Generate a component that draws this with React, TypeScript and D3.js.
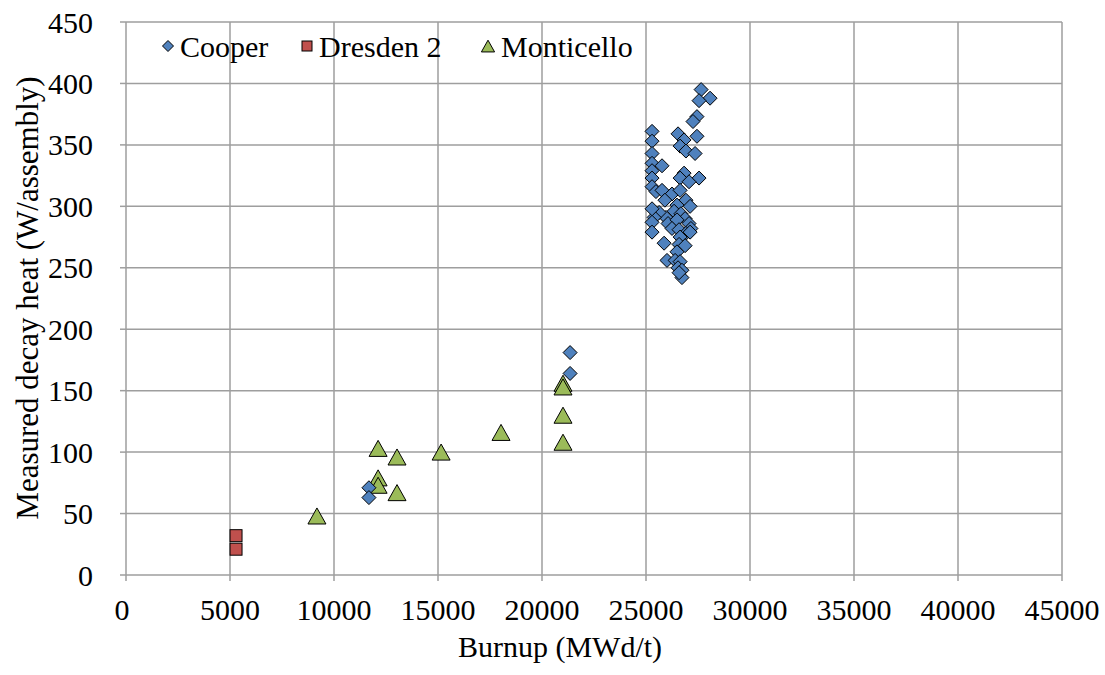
import React from "react";
import * as d3 from "d3";

const cooperX = [27650, 28080, 27550, 27450, 27260, 27450, 25290, 25290, 26540, 26830, 26640, 26920, 27360, 25290, 25290, 25770, 25290, 25290, 26830, 26640, 27550, 27070, 25290, 25480, 25770, 26250, 26640, 25910, 26920, 27120, 26490, 26350, 25960, 25630, 25390, 25290, 25290, 26060, 26680, 26880, 27070, 27160, 25290, 26490, 26250, 26590, 26920, 27120, 25870, 26640, 26590, 26490, 26880, 26010, 26400, 26640, 26540, 26730, 26730, 26590, 21350, 21350, 11680, 11680];
const cooperY = [395, 388, 386, 373, 369, 357, 361, 353, 359, 354, 349, 345, 343, 343, 335, 333, 329, 323, 327, 323, 323, 320, 316, 312, 313, 310, 313, 305, 305, 300, 301, 296, 291, 295, 291, 298, 287, 286, 294, 290, 286, 282, 279, 289, 282, 281, 278, 279, 270, 275, 269, 263, 268, 256, 256, 255, 250, 248, 242, 246, 181, 164, 71, 63];

const dresdenX = [5290, 5290];
const dresdenY = [32, 21];

const monticelloX = [9180, 12120, 13030, 15150, 18030, 21010, 21010, 21010, 21010, 12120, 12120, 13030];
const monticelloY = [47, 102, 95, 99, 115, 155, 152, 129, 107, 78, 72, 66];

const xTicks = [0, 5000, 10000, 15000, 20000, 25000, 30000, 35000, 40000, 45000];
const yTicks = [0, 50, 100, 150, 200, 250, 300, 350, 400, 450];

const W = 1105, H = 675;
const L = 126, R = 1062, T = 22, B = 575;
const FONT = "'Liberation Serif', 'Times New Roman', serif";
const FS = 30;

export default function App() {
  const x = d3.scaleLinear().domain([0, 45000]).range([L, R]);
  const y = d3.scaleLinear().domain([0, 450]).range([B, T]);
  const diamond = (cx: number, cy: number, r: number) => `M${cx},${cy - r}L${cx + r},${cy}L${cx},${cy + r}L${cx - r},${cy}Z`;
  const tri = (cx: number, cy: number, s: number) => `M${cx},${cy - s * 0.62}L${cx + s * 0.6},${cy + s * 0.45}L${cx - s * 0.6},${cy + s * 0.45}Z`;

  return (
    <svg width={W} height={H} style={{ position: "absolute", left: 0, top: 0, background: "#fff" }} fontFamily={FONT}>
      {xTicks.map((t) => (
        <line key={"gx" + t} x1={x(t)} x2={x(t)} y1={T} y2={B} stroke="#9e9e9e" strokeWidth={1.5} />
      ))}
      {yTicks.map((t) => (
        <line key={"gy" + t} x1={L} x2={R} y1={y(t)} y2={y(t)} stroke="#9e9e9e" strokeWidth={1.5} />
      ))}
      {yTicks.map((t) => (
        <line key={"ty" + t} x1={L - 6} x2={L} y1={y(t)} y2={y(t)} stroke="#9e9e9e" strokeWidth={1.5} />
      ))}
      {xTicks.map((t) => (
        <line key={"tx" + t} x1={x(t)} x2={x(t)} y1={B} y2={B + 6} stroke="#9e9e9e" strokeWidth={1.5} />
      ))}
      {yTicks.map((t) => (
        <text key={"ly" + t} x={93} y={y(t)} dy="0.35em" textAnchor="end" fontSize={FS} fill="#000">{t}</text>
      ))}
      {xTicks.map((t) => (
        <text key={"lx" + t} x={x(t) - (t === 0 ? 4 : 0)} y={609} dy="0.35em" textAnchor="middle" fontSize={FS} fill="#000">{t}</text>
      ))}
      <text x={(L + R) / 2 - 34} y={646} dy="0.35em" textAnchor="middle" fontSize={FS}>Burnup (MWd/t)</text>
      <text transform={`translate(27,298) rotate(-90)`} dy="0.35em" textAnchor="middle" fontSize={31}>Measured decay heat (W/assembly)</text>

      {monticelloX.map((v, i) => (
        <path key={"m" + i} d={tri(x(v), y(monticelloY[i]), 15)} fill="#9BBB59" stroke="#000" strokeWidth={1} />
      ))}
      {dresdenX.map((v, i) => (
        <rect key={"d" + i} x={x(v) - 6} y={y(dresdenY[i]) - 6} width={12} height={12} fill="#C0504D" stroke="#000" strokeWidth={1} />
      ))}
      {cooperX.map((v, i) => (
        <path key={"c" + i} d={diamond(x(v), y(cooperY[i]), 7)} fill="#4F81BD" stroke="#000" strokeWidth={1} />
      ))}

      <g>
        <path d={diamond(168, 46, 5.5)} fill="#4F81BD" stroke="#000" strokeWidth={1} />
        <text x={180} y={46} dy="0.35em" fontSize={FS}>Cooper</text>
        <rect x={302} y={41} width={10} height={10} fill="#C0504D" stroke="#000" strokeWidth={1} />
        <text x={319} y={46} dy="0.35em" fontSize={FS}>Dresden 2</text>
        <path d={tri(488, 47, 11)} fill="#9BBB59" stroke="#000" strokeWidth={1} />
        <text x={501} y={46} dy="0.35em" fontSize={FS}>Monticello</text>
      </g>
    </svg>
  );
}
